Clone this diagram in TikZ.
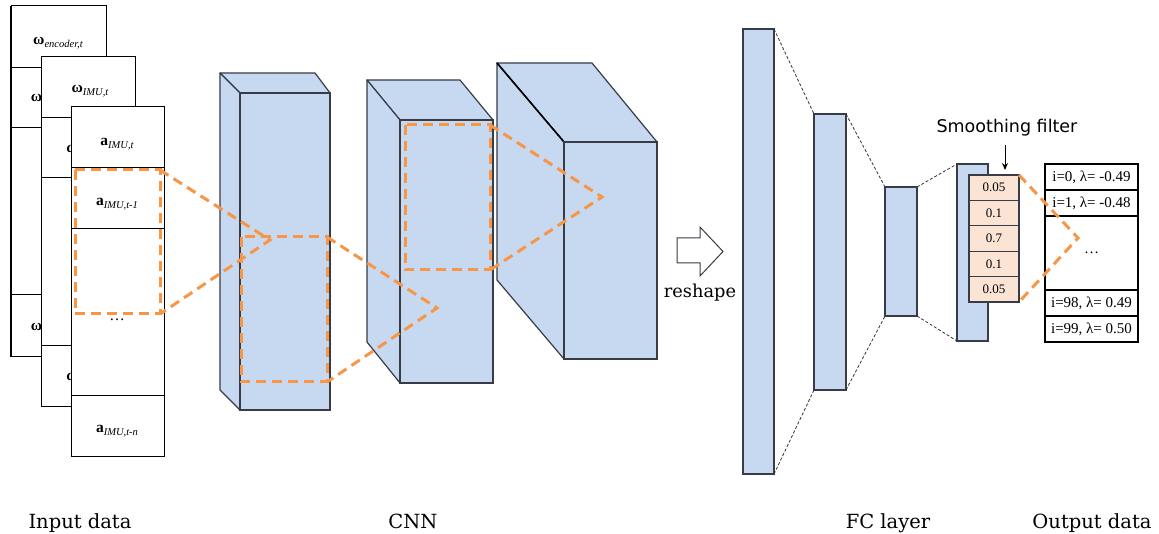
\documentclass[tikz,border=0pt]{standalone}
\usepackage{fontspec}
\setmainfont{Liberation Serif}
\newfontfamily\labelfont{DejaVu Serif}
\newfontfamily\smoothfont{DejaVu Sans}
\usetikzlibrary{arrows.meta}
\definecolor{cnnblue}{RGB}{198,217,240}
\definecolor{edgegray}{RGB}{55,60,70}
\definecolor{orng}{RGB}{247,150,70}
\definecolor{peach}{RGB}{252,228,213}
\newcommand\insym[2]{\textbf{#1}\raisebox{-3pt}{\fontsize{10.5}{12}\selectfont\itshape #2}}
\begin{document}
\begin{tikzpicture}[x=1pt,y=-1pt,
  sheet/.style={draw=black,fill=white,line width=1pt},
  face/.style={draw=edgegray,fill=cnnblue,line width=1.2pt,line join=round},
  layer/.style={draw=edgegray,fill=cnnblue,line width=1.2pt,inner sep=0pt,outer sep=0pt},
  orangedash/.style={draw=orng,line width=3pt,dash pattern=on 10pt off 6pt,line join=miter},
  fclink/.style={draw=black!80,line width=0.8pt,dash pattern=on 3pt off 2pt},
  intext/.style={font=\fontsize{15.5}{18}\selectfont,inner sep=0pt},
  cellbox/.style={draw=edgegray,fill=peach,line width=1.2pt,minimum width=50pt,minimum height=25.4pt,inner sep=0pt,outer sep=0pt,font=\fontsize{13}{15}\selectfont},
  outcell/.style={draw=black,fill=white,line width=1.2pt,minimum width=93pt,inner sep=0pt,outer sep=0pt,font=\fontsize{15}{18}\selectfont},
  caption/.style={font=\labelfont\fontsize{19.5}{23}\selectfont,anchor=base,inner sep=0pt}
]
\useasboundingbox (0,0) rectangle (1159,534);
\fill[white] (0,0) rectangle (1159,534);

% ---------- input sheets ----------
% back sheet
\draw[sheet] (11,6) rectangle (106,357);
\draw[line width=1pt] (11,68) -- (106,68) (11,128) -- (106,128) (11,295) -- (106,295);
\draw[line width=2.2pt] (11,6) -- (11,357);
\node[intext] (w1) at (58,43) {\insym{ω}{encoder,t}};
\node[intext] (w2) at (60,100) {\insym{ω}{encoder,t-1}};
\node[intext] (w3) at (60,329) {\insym{ω}{encoder,t-n}};
% middle sheet
\draw[sheet] (41,57) rectangle (135,406);
\draw[line width=1pt] (41,118) -- (135,118) (41,178) -- (135,178) (41,346) -- (135,346);
\node[intext] (m1) at (90,91) {\insym{ω}{IMU,t}};
\node[intext] (m2) at (89,151) {\insym{ω}{IMU,t-1}};
\node[intext] (m3) at (89,379) {\insym{ω}{IMU,t-n}};
% front sheet
\draw[sheet] (71,107) rectangle (164,456);
\draw[line width=1pt] (71,168) -- (164,168) (71,229) -- (164,229) (71,395) -- (164,395);
\node[intext] (a1) at (117,144) {\insym{a}{IMU,t}};
\node[intext] (a2) at (117,204) {\insym{a}{IMU,t-1}};
\node[intext] (a4) at (117,431) {\insym{a}{IMU,t-n}};

% ---------- CNN boxes ----------
\path[face] (220,73) -- (315,73) -- (330,93) -- (240,93) -- cycle;
\path[face] (220,73) -- (240,93) -- (240,410) -- (220,390) -- cycle;
\node[layer,minimum width=90pt,minimum height=317pt] (c1) at (285,251.5) {};

\path[face] (367,80) -- (460,80) -- (493,120) -- (400,120) -- cycle;
\path[face] (367,80) -- (400,120) -- (400,383) -- (367,342) -- cycle;
\node[layer,minimum width=93pt,minimum height=263pt] (c2) at (446.5,251.5) {};

\path[face] (497,63) -- (592,63) -- (657,142) -- (564,142) -- cycle;
\path[face] (497,63) -- (564,142) -- (564,359) -- (497,280) -- cycle;
\draw[line width=1.6pt,black] (497,63) -- (564,142);
\node[layer,minimum width=93pt,minimum height=217pt] (c3) at (610.5,250.5) {};

% ---------- orange receptive fields ----------
\coordinate (p0a) at (75,170);  \coordinate (p0b) at (160,314);
\coordinate (x0) at (270,240);
\draw[orangedash] (p0a) rectangle (p0b);
\draw[orangedash] (160,170) -- (x0) -- (160,314);
\node[intext] (a3) at (117,320) {\dots};

\coordinate (p1a) at (241,237); \coordinate (p1b) at (327,382);
\coordinate (x1) at (437,308);
\draw[orangedash] (p1a) rectangle (p1b);
\draw[orangedash] (327,237) -- (x1) -- (327,382);

\coordinate (p2a) at (405,125); \coordinate (p2b) at (490,270);
\coordinate (x2) at (602,197);
\draw[orangedash] (p2a) rectangle (p2b);
\draw[orangedash] (490,125) -- (x2) -- (490,270);

% ---------- reshape arrow ----------
\draw[edgegray,line width=1pt,fill=white,line join=miter] (677,238) -- (700,238) -- (700,227) -- (723,251.5) -- (700,276) -- (700,263) -- (677,263) -- cycle;
\node[font=\labelfont\fontsize{17.8}{21}\selectfont,inner sep=0pt] (rs) at (700,293) {reshape};

% ---------- FC layers ----------
\node[layer,minimum width=31pt,minimum height=445pt] (L1) at (758.5,251.5) {};
\node[layer,minimum width=32pt,minimum height=276pt] (L2) at (830,252) {};
\node[layer,minimum width=32pt,minimum height=129pt] (L3) at (901,251.5) {};
\node[layer,minimum width=31pt,minimum height=177pt] (L4) at (972.5,252.5) {};
\draw[fclink] (L1.north east) -- (L2.north west);
\draw[fclink] (L1.south east) -- (L2.south west);
\draw[fclink] (L2.north east) -- (L3.north west);
\draw[fclink] (L2.south east) -- (L3.south west);
\draw[fclink] (L3.north east) -- (L4.north west);
\draw[fclink] (L3.south east) -- (L4.south west);

% ---------- smoothing filter ----------
\node[cellbox] (f1) at (994,187.7) {0.05};
\node[cellbox] (f2) at (994,213.1) {0.1};
\node[cellbox] (f3) at (994,238.5) {0.7};
\node[cellbox] (f4) at (994,263.9) {0.1};
\node[cellbox] (f5) at (994,289.3) {0.05};
\node[font=\smoothfont\fontsize{17.5}{21}\selectfont,inner sep=0pt] (sf) at (1007,128) {Smoothing filter};
\coordinate (arrtop) at (1005,145);
\draw[line width=1pt,-{Stealth[length=7pt,width=6pt]},shorten >=5pt] (arrtop) -- (f1.north -| arrtop);

% ---------- output table ----------
\node[outcell,minimum height=26pt] (t1) at (1091.5,177) {i=0, λ= -0.49};
\node[outcell,minimum height=26pt] (t2) at (1091.5,203) {i=1, λ= -0.48};
\node[outcell,minimum height=74pt] (t3) at (1091.5,253) {\raisebox{-2pt}{\dots}};
\node[outcell,minimum height=26pt] (t4) at (1091.5,303) {i=98, λ= 0.49};
\node[outcell,minimum height=26pt] (t5) at (1091.5,329) {i=99, λ= 0.50};

\coordinate (x3) at (1078,238);
\draw[orangedash] (f1.north east) -- (x3) -- (f5.south east);

% ---------- captions ----------
\node[caption] (cap1) at (80,528) {Input data};
\node[caption] (cap2) at (413,528) {CNN};
\node[caption] (cap3) at (888,528) {FC layer};
\node[caption] (cap4) at (1092,528) {Output data};
\end{tikzpicture}
\end{document}
